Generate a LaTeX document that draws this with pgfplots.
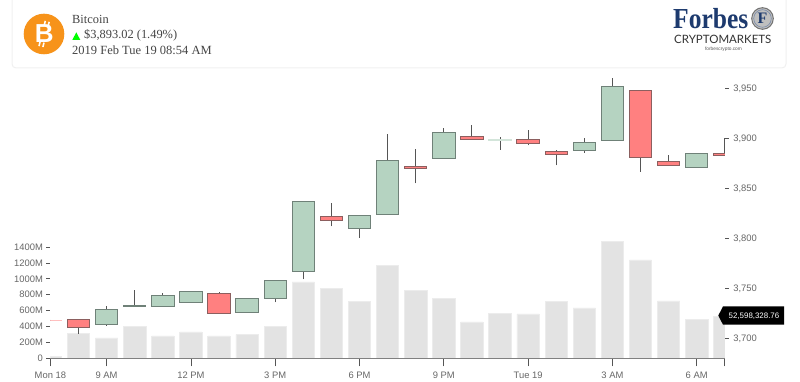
\documentclass[border=0pt]{standalone}
\usepackage{pgfplots}
\pgfplotsset{compat=1.18}
\usepackage{fontspec}
\setmainfont{Liberation Sans}
\newfontfamily\serifface{Liberation Serif}
\newfontfamily\latoface{Lato}
\definecolor{axgrey}{HTML}{666666}
\definecolor{tickdark}{HTML}{555555}
\definecolor{volfill}{HTML}{E3E3E3}
\definecolor{voledge}{HTML}{ECECEC}
\definecolor{upfill}{HTML}{B5D3C1}
\definecolor{upedge}{HTML}{6F8178}
\definecolor{downfill}{HTML}{FF8080}
\definecolor{downedge}{HTML}{8C5F5F}
\definecolor{txt}{HTML}{444444}
\definecolor{forbes}{HTML}{1D3A6E}
\definecolor{btc}{HTML}{F7931A}
% \candle{position}{low}{body bottom}{body top}{high}{fill}{edge}
\newcommand\candle[7]{%
  \pgfmathsetmacro\candleL{#1-0.398}%
  \pgfmathsetmacro\candleR{#1+0.398}%
  \addplot[forget plot, draw=tickdark, line width=0.9pt] coordinates {(#1,#2)(#1,#3)};
  \addplot[forget plot, draw=tickdark, line width=0.9pt] coordinates {(#1,#4)(#1,#5)};
  \addplot[forget plot, draw=#7, fill=#6, line width=0.9pt, line join=miter] coordinates
    {(\candleL,#3)(\candleR,#3)(\candleR,#4)(\candleL,#4)(\candleL,#3)} -- cycle;}
\pgfplotsset{common/.style={
  at={(50.4pt,23.7pt)}, anchor=south west, scale only axis,
  width=674.4pt, height=286pt, xmin=0, xmax=24, enlargelimits=false,
  tick align=outside, tick label style={font=\fontsize{9.4}{10}\selectfont, text=axgrey},
  /pgf/number format/assume math mode=true}}
\begin{document}
\begin{tikzpicture}[x=1pt,y=1pt]
\path[use as bounding box] (0,0) rectangle (800,382);
% header card
\draw[draw=black!6,line width=1pt,fill=white] (12,382) -- (12,318) arc[start angle=180,end angle=270,radius=4] -- (782,314) arc[start angle=270,end angle=360,radius=4] -- (786,382);
\fill[btc] (44,348) circle[radius=20.3];
\begin{scope}[shift={(44.3,348)},rotate=-14]
\foreach \dx in {-2.2,1.8}{\fill[white] (\dx-0.8,8.5) rectangle (\dx+0.8,13);\fill[white] (\dx-0.8,-13) rectangle (\dx+0.8,-8.5);}
\node[inner sep=0,text=white,font=\fontsize{26}{26}\selectfont\bfseries] at (0,0) {B};
\end{scope}
\node[anchor=base west,inner sep=0,text=txt,font=\serifface\fontsize{12.4}{14}\selectfont] at (72,358.3) {Bitcoin};
\fill[green] (72.3,342) -- (80.3,342) -- (76.3,349.7) -- cycle;
\node[anchor=base west,inner sep=0,text=txt,font=\serifface\fontsize{12.4}{14}\selectfont] at (84,343) {\$3,893.02 (1.49\%)};
\node[anchor=base west,inner sep=0,text=txt,font=\serifface\fontsize{12.5}{14}\selectfont] at (72,327) {2019 Feb Tue 19 08:54 AM};
% Forbes logo
\node[anchor=base west,inner sep=0,text=forbes,xscale=0.88,font=\serifface\bfseries\fontsize{29}{29}\selectfont] at (673,353) {Forbes};
\draw[draw=black!55,fill=black!25,line width=1pt] (762.5,363.5) circle[radius=10.8];
\draw[draw=forbes!60,line width=.6pt] (762.5,363.5) circle[radius=8.8];
\node[inner sep=0,text=forbes,font=\serifface\bfseries\fontsize{16}{16}\selectfont] at (762.5,363.5) {F};
\node[anchor=base west,inner sep=0,text=black!80,font=\latoface\fontsize{11.5}{12}\selectfont] at (674,338.6) {CRYPTOMARKETS};
\node[inner sep=0,text=black!65,font=\fontsize{4.8}{5}\selectfont] at (723.5,333) {forbescrypto.com};
% volume axis
\begin{axis}[common,
  axis y line*=left, axis x line=none,
  ymin=0, ymax=3597.5,
  ytick={0,200,400,600,800,1000,1200,1400},
  yticklabels={0,200M,400M,600M,800M,1000M,1200M,1400M},
  major tick length=4pt, ytick style={draw=tickdark,line width=.7pt},
  y axis line style={draw=none}]
\addplot[ybar, bar width=22.4pt, fill=volfill, draw=voledge, line width=.8pt] coordinates {
 (0,25)(1,310)(2,256)(3,406)(4,281)(5,331)(6,281)(7,302)(8,406)(9,960)(10,880)(11,713)
 (12,1165)(13,859)(14,755)(15,457)(16,566)(17,558)(18,713)(19,633)(20,1467)(21,1237)
 (22,721)(23,486)(24,526)};
\end{axis}
% price axis
\begin{axis}[common,
  axis y line*=right, axis x line=none,
  ymin=3680.1, ymax=3966.1,
  ytick={3700,3750,3800,3850,3900,3950},
  yticklabels={{3,700},{3,750},{3,800},{3,850},{3,900},{3,950}},
  yticklabel style={xshift=1pt},
  major tick length=4pt,
  ytick style={draw=tickdark,line width=.7pt},
  y axis line style={draw=none}]
\candle{0}{3718}{3717.6}{3718.4}{3718}{downfill!50}{downfill!50}
\candle{1}{3704.4}{3710.7}{3718.7}{3718.7}{downfill}{downedge}
\candle{2}{3712.4}{3713.7}{3728.7}{3732}{upfill}{upedge}
\candle{3}{3731.7}{3731.7}{3732.7}{3748}{upfill}{upedge}
\candle{4}{3731.7}{3731.7}{3742.7}{3745}{upfill}{upedge}
\candle{5}{3735.7}{3735.7}{3747.4}{3747.4}{upfill}{upedge}
\candle{6}{3724.7}{3724.7}{3745}{3746.7}{downfill}{downedge}
\candle{7}{3726.4}{3726.4}{3740}{3740}{upfill}{upedge}
\candle{8}{3735.9}{3740}{3758}{3758}{upfill}{upedge}
\candle{9}{3759}{3766.7}{3837}{3837}{upfill}{upedge}
\candle{10}{3812}{3817.7}{3822}{3835.4}{downfill}{downedge}
\candle{11}{3800.4}{3809.7}{3823}{3823}{upfill}{upedge}
\candle{12}{3824.4}{3824.4}{3878}{3904}{upfill}{upedge}
\candle{13}{3855}{3870}{3872}{3889}{downfill}{downedge}
\candle{14}{3880}{3880}{3905.7}{3910}{upfill}{upedge}
\candle{15}{3899}{3899}{3902}{3913.4}{downfill}{downedge}
\candle{16}{3888.4}{3898.4}{3899}{3901}{upfill!60}{upfill!60}
\candle{17}{3893}{3894.7}{3898.7}{3908.7}{downfill}{downedge}
\candle{18}{3873}{3884.4}{3887}{3888.4}{downfill}{downedge}
\candle{19}{3885.4}{3888.4}{3896}{3900}{upfill}{upedge}
\candle{20}{3897.7}{3897.7}{3951.7}{3960}{upfill}{upedge}
\candle{21}{3866.4}{3880.7}{3947.7}{3947.7}{downfill}{downedge}
\candle{22}{3873.4}{3873.4}{3877.4}{3883.7}{downfill}{downedge}
\candle{23}{3871.4}{3871.4}{3884.7}{3884.7}{upfill}{upedge}
\candle{24}{3883}{3883}{3884.7}{3900}{downfill}{downedge}
\end{axis}
% time axis
\begin{axis}[common,
  axis x line*=bottom, axis y line=none,
  ymin=0, ymax=1,
  xtick={0,2,5,8,11,14,17,20,23,24},
  xticklabels={Mon 18,9 AM,12 PM,3 PM,6 PM,9 PM,Tue 19,3 AM,6 AM,{}},
  major tick length=8pt,
  xtick style={draw=tickdark,line width=.7pt},
  xticklabel style={yshift=-2pt},
  x axis line style={draw=black!50,line width=1.3pt,-}]
\end{axis}
% value tag
\fill[black] (718.3,66.4) -- (723,75.7) -- (784,75.7) -- (784,57.3) -- (723,57.3) -- cycle;
\node[inner sep=0,text=white,font=\fontsize{7.9}{9}\selectfont] at (754,66.2) {52,598,328.76};
\end{tikzpicture}
\end{document}
